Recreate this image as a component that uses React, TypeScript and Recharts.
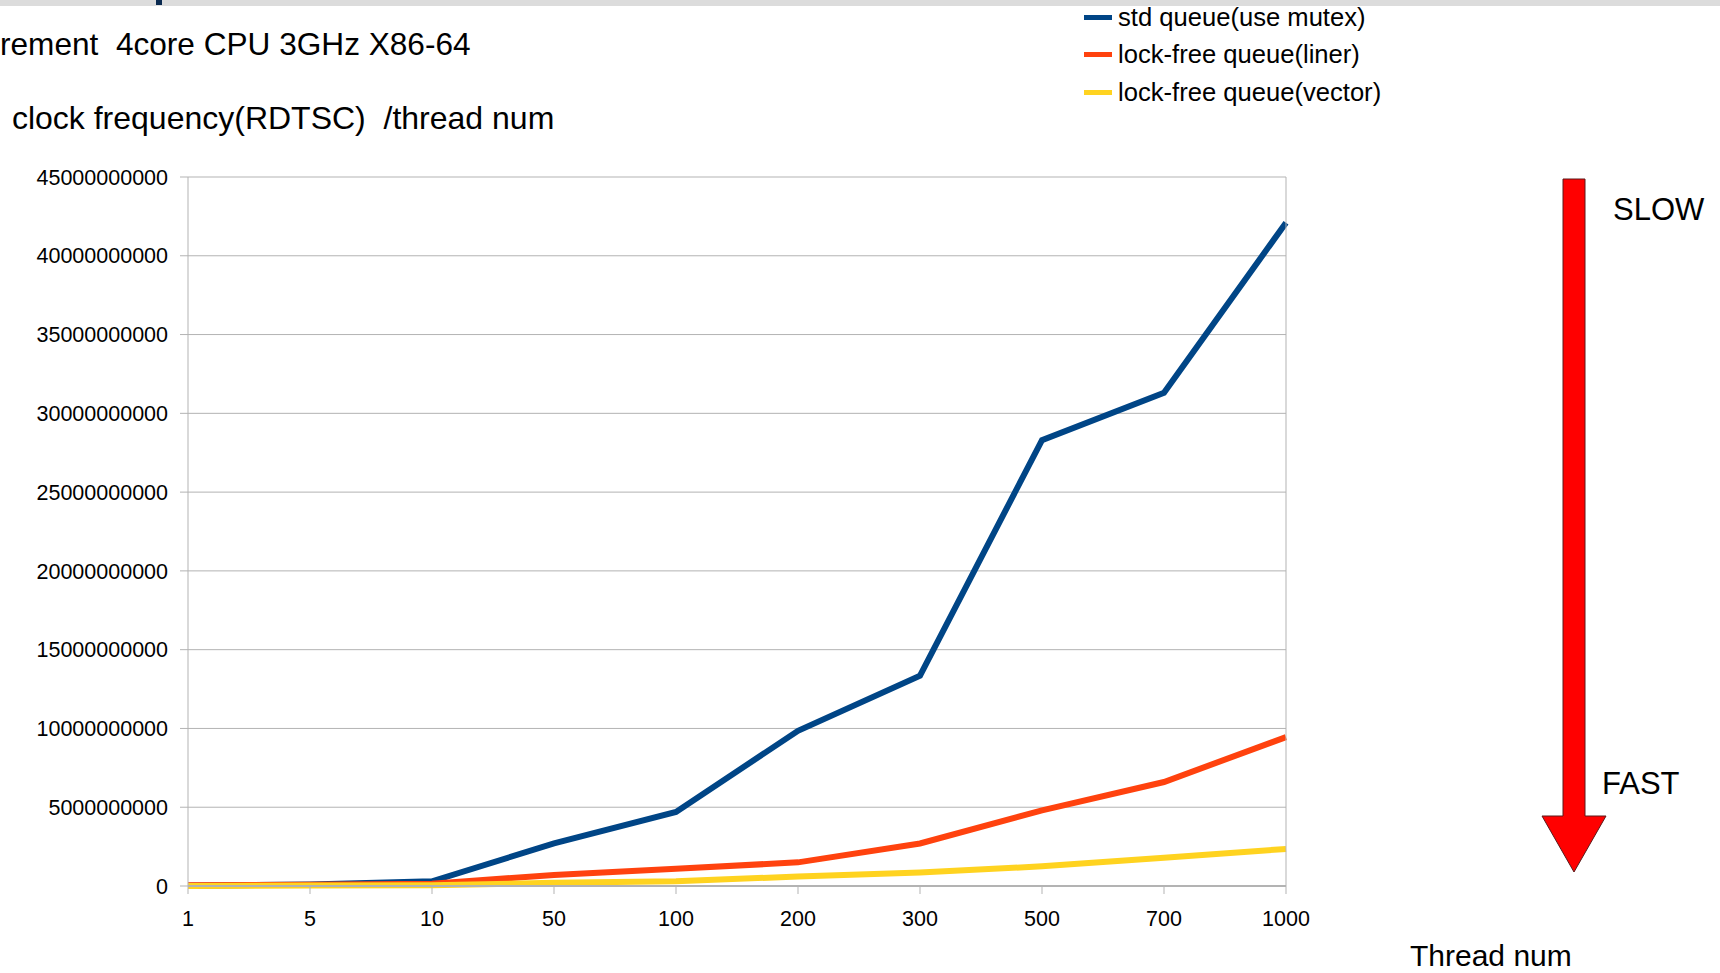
import React from 'react';
import { LineChart, Line, XAxis, YAxis, CartesianGrid } from 'recharts';

const threadCounts = ['1', '5', '10', '50', '100', '200', '300', '500', '700', '1000'];
const stdQueue = [0.02e9, 0.1e9, 0.3e9, 2.7e9, 4.7e9, 9.85e9, 13.35e9, 28.3e9, 31.3e9, 42.1e9];
const lockFreeLiner = [0.05e9, 0.08e9, 0.15e9, 0.7e9, 1.1e9, 1.5e9, 2.7e9, 4.8e9, 6.6e9, 9.45e9];
const lockFreeVector = [0, 0.03e9, 0.05e9, 0.2e9, 0.3e9, 0.6e9, 0.85e9, 1.25e9, 1.8e9, 2.35e9];
const yTicks = [0, 5e9, 10e9, 15e9, 20e9, 25e9, 30e9, 35e9, 40e9, 45e9];

const seriesNames = ['std queue(use mutex)', 'lock-free queue(liner)', 'lock-free queue(vector)'];
const seriesColors = ['#004586', '#ff420e', '#ffd320'];

const data = threadCounts.map((t, i) => ({
  name: t,
  std: stdQueue[i],
  liner: lockFreeLiner[i],
  vector: lockFreeVector[i],
}));

const font = '"Liberation Sans", Arial, sans-serif';
const gray = '#b3b3b3';
const tickStyle = { fill: '#000', fontSize: 21.5, fontFamily: font };

const App: React.FC = () => {
  return (
    <div
      style={{
        position: 'absolute',
        left: 0,
        top: 0,
        width: 1720,
        height: 973,
        overflow: 'hidden',
        background: '#fff',
        fontFamily: font,
        color: '#000',
      }}
    >
      {/* top strip */}
      <div style={{ position: 'absolute', left: 0, top: 0, width: 1720, height: 6, background: '#dcdcdc' }} />
      <div style={{ position: 'absolute', left: 156, top: 0, width: 6, height: 5, background: '#0a2a50' }} />

      <div style={{ position: 'absolute', left: 0, top: 26, fontSize: 31.6, whiteSpace: 'pre' }}>
        rement  4core CPU 3GHz X86-64
      </div>
      <div style={{ position: 'absolute', left: 3, top: 100, fontSize: 32, whiteSpace: 'pre' }}>
        {' clock frequency(RDTSC)  /thread num'}
      </div>

      {/* legend */}
      {seriesNames.map((n, i) => (
        <div
          key={n}
          style={{ position: 'absolute', left: 1084, top: 3 + i * 37.5, height: 28, display: 'flex', alignItems: 'center' }}
        >
          <div style={{ width: 28, height: 5, background: seriesColors[i], marginRight: 6 }} />
          <span style={{ fontSize: 25.6, whiteSpace: 'pre' }}>{n}</span>
        </div>
      ))}

      <LineChart
        width={1720}
        height={973}
        data={data}
        margin={{ top: 177, right: 0, bottom: 0, left: 0 }}
        style={{ position: 'absolute', left: 0, top: 0 }}
      >
        <CartesianGrid yAxisId="left" vertical={false} stroke={gray} strokeWidth={1} />
        <XAxis
          dataKey="name"
          height={87}
          tick={tickStyle}
          tickSize={8}
          tickMargin={17}
          axisLine={{ stroke: gray, strokeWidth: 2 }}
          tickLine={{ stroke: gray }}
          interval={0}
        />
        <YAxis
          yAxisId="left"
          width={188}
          domain={[0, 45e9]}
          ticks={yTicks}
          tickFormatter={(v: number) => String(v)}
          tick={tickStyle}
          tickSize={8}
          tickMargin={12}
          axisLine={{ stroke: gray }}
          tickLine={{ stroke: gray }}
          interval={0}
        />
        <YAxis
          yAxisId="right"
          orientation="right"
          width={434}
          domain={[0, 45e9]}
          ticks={yTicks}
          tickFormatter={(v: number) => String(v)}
          tick={tickStyle}
          tickSize={8}
          tickMargin={10}
          axisLine={{ stroke: gray }}
          tickLine={{ stroke: gray }}
          interval={0}
        />
        <Line yAxisId="left" type="linear" dataKey="std" stroke={seriesColors[0]} strokeWidth={6} dot={false} isAnimationActive={false} />
        <Line yAxisId="left" type="linear" dataKey="liner" stroke={seriesColors[1]} strokeWidth={6} dot={false} isAnimationActive={false} />
        <Line yAxisId="left" type="linear" dataKey="vector" stroke={seriesColors[2]} strokeWidth={6} dot={false} isAnimationActive={false} />
      </LineChart>

      {/* SLOW -> FAST arrow */}
      <svg width={1720} height={973} style={{ position: 'absolute', left: 0, top: 0, pointerEvents: 'none' }}>
        <polygon
          points="1563,179 1585,179 1585,816 1606,816 1574,872 1542,816 1563,816"
          fill="#ff0000"
          stroke="#5a1a1a"
          strokeWidth={1}
        />
      </svg>
      <div style={{ position: 'absolute', left: 1613, top: 192, fontSize: 31 }}>SLOW</div>
      <div style={{ position: 'absolute', left: 1602, top: 766, fontSize: 31 }}>FAST</div>
      <div style={{ position: 'absolute', left: 1410, top: 939, fontSize: 30, whiteSpace: 'pre' }}>
        Thread num
      </div>
    </div>
  );
};

export default App;
